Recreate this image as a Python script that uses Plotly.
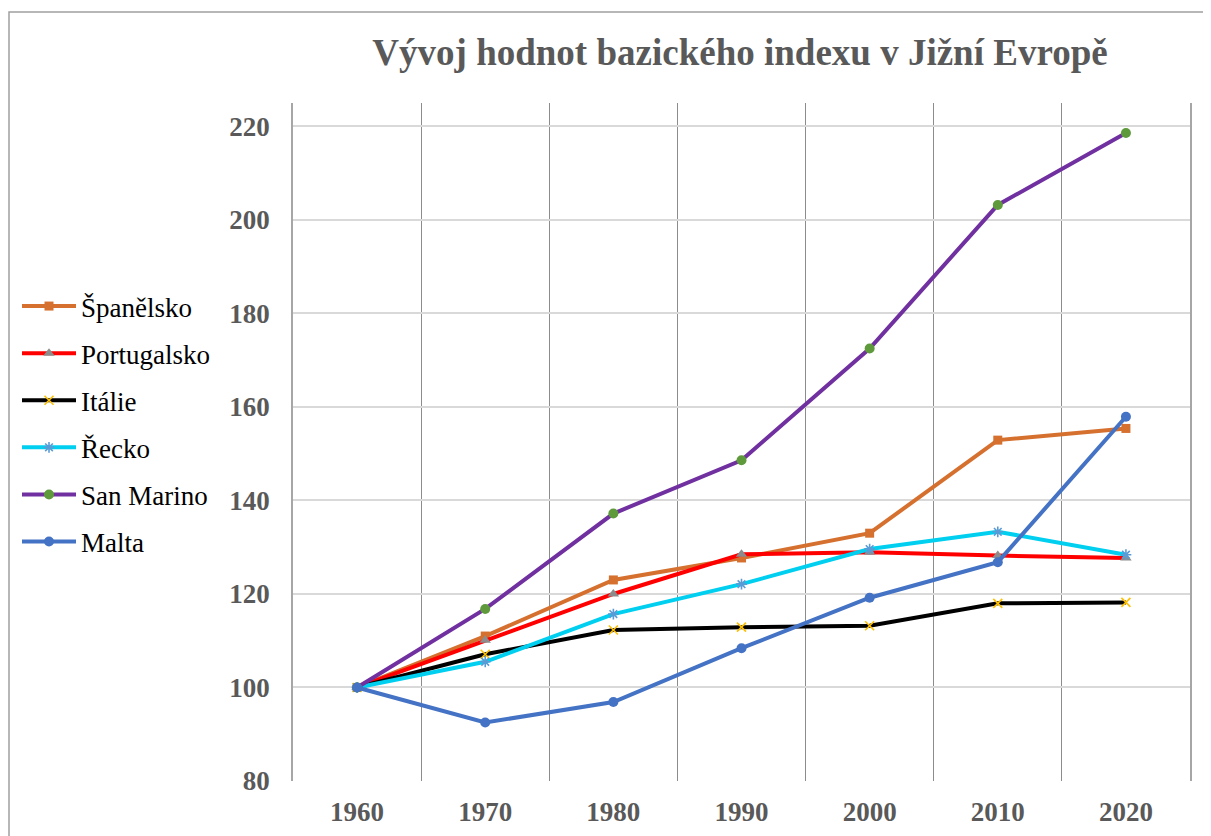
import plotly.graph_objects as go

years = ["1960", "1970", "1980", "1990", "2000", "2010", "2020"]
spanelsko = [100, 111.0, 123.0, 127.7, 133.0, 152.9, 155.4]
portugalsko = [100, 110.1, 120.0, 128.5, 128.9, 128.2, 127.7]
italie = [100, 107.1, 112.3, 112.9, 113.2, 118.0, 118.2]
recko = [100, 105.5, 115.7, 122.1, 129.6, 133.3, 128.4]
san_marino = [100, 116.8, 137.2, 148.6, 172.5, 203.2, 218.6]
malta = [100, 92.5, 96.9, 108.4, 119.2, 126.8, 157.9]
y_ticks = [80, 100, 120, 140, 160, 180, 200, 220]

series = [
    ("Španělsko", spanelsko, "#D5702F", dict(symbol="square", size=9, color="#D5702F")),
    ("Portugalsko", portugalsko, "#FF0000", dict(symbol="triangle-up", size=10, color="#8C8C8C")),
    ("Itálie", italie, "#000000", dict(symbol="x-thin-open", size=9, color="#FFC000", line=dict(color="#FFC000", width=1.6))),
    ("Řecko", recko, "#00CFF0", dict(symbol="asterisk-open", size=9, color="#5B9BD5", line=dict(color="#5B9BD5", width=1.6))),
    ("San Marino", san_marino, "#7030A0", dict(symbol="circle", size=10, color="#5E9A3B")),
    ("Malta", malta, "#4472C4", dict(symbol="circle", size=10, color="#4472C4")),
]

fig = go.Figure()
for name, vals, col, mk in series:
    fig.add_trace(go.Scatter(x=years, y=vals, name=name, mode="lines+markers", legendgroup=name,
                             line=dict(color=col, width=4), marker=mk))

OFF = 8  # page body margin
L, R, T, B = 293 - OFF, 1190 - OFF, 103 - OFF, 781 - OFF
W, H = 1211 - OFF, 836 - OFF
pw, ph = R - L, B - T

def px(x):
    return (x - OFF - L) / pw

def py(y):
    return (B - (y - OFF)) / ph

fig.update_layout(
    width=W, height=H,
    margin=dict(l=L, r=W - R, t=T, b=H - B, autoexpand=False),
    paper_bgcolor="white", plot_bgcolor="white",
    title=dict(text="<b>Vývoj hodnot bazického indexu v Jižní Evropě</b>",
               font=dict(family="Liberation Serif", size=37, color="#595959"),
               x=(740 - OFF) / W, xref="container", xanchor="center",
               y=1 - (52 - OFF) / H, yref="container", yanchor="middle"),
    legend=dict(x=px(17), y=py(424), xanchor="left", yanchor="middle",
                font=dict(family="Liberation Serif", size=27, color="#000000"),
                tracegroupgap=9, itemwidth=54, bgcolor="rgba(0,0,0,0)"),
    xaxis=dict(type="category", range=[-0.5, 6.5], tickson="boundaries",
               showgrid=True, gridcolor="#8C8C8C", gridwidth=1.3, ticks="",
               tickfont=dict(family="Liberation Serif", size=27, color="#595959", weight="bold"),
               ticklabelstandoff=12, showline=False, zeroline=False),
    yaxis=dict(range=[80, 225], tickvals=y_ticks, showgrid=True, gridcolor="#D9D9D9",
               gridwidth=2, zeroline=False, showline=True, mirror=True,
               linecolor="#A6A6A6", linewidth=1.5, ticks="",
               tickfont=dict(family="Liberation Serif", size=27, color="#595959", weight="bold"),
               ticklabelstandoff=16),
    shapes=[dict(type="rect", xref="paper", yref="paper", x0=px(9), x1=px(1240),
                 y0=py(870), y1=py(12), line=dict(color="#A0A0A0", width=1.5),
                 layer="below")],
)

fig.write_html("out.html")
